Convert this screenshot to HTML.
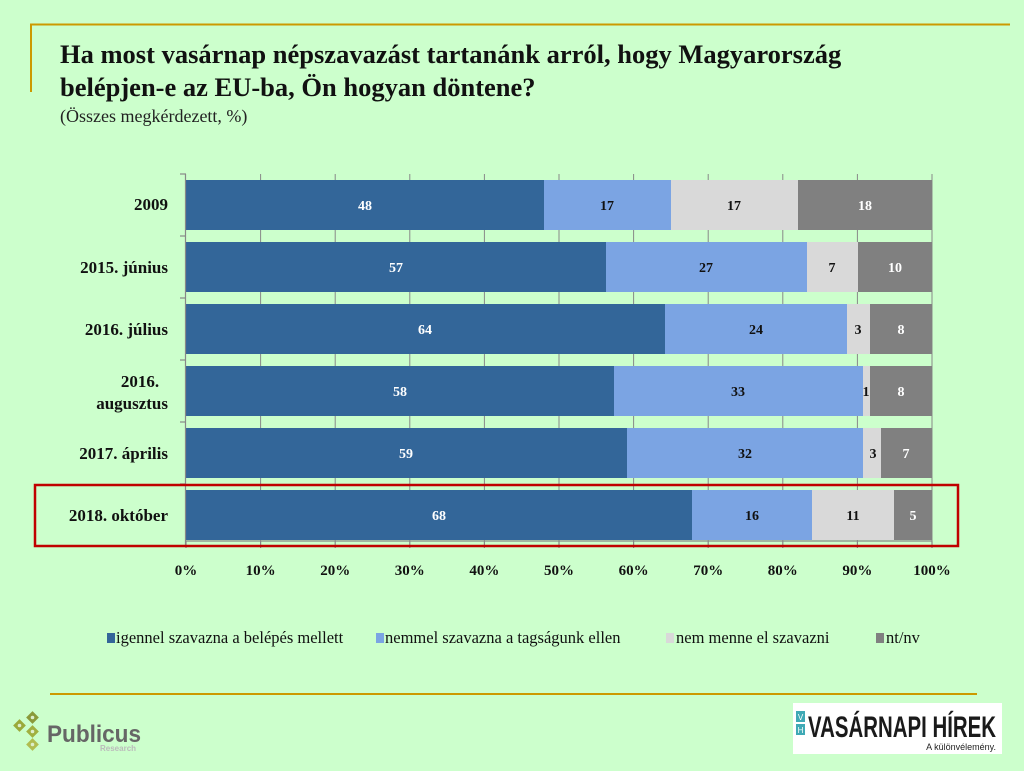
<!DOCTYPE html>
<html><head><meta charset="utf-8"><style>
html,body{margin:0;padding:0;background:#ccffcc;}
svg{display:block;}
</style></head><body>
<svg width="1024" height="771" viewBox="0 0 1024 771" xmlns="http://www.w3.org/2000/svg" font-family="'Liberation Serif', serif">
<rect width="1024" height="771" fill="#ccffcc"/>
<line x1="30" y1="24.5" x2="1010" y2="24.5" stroke="#cc9900" stroke-width="2"/>
<line x1="31" y1="24" x2="31" y2="92" stroke="#cc9900" stroke-width="2"/>
<line x1="50" y1="694" x2="977" y2="694" stroke="#cc9900" stroke-width="2"/>
<text x="60" y="63" font-size="26.5" font-weight="bold" fill="#111">Ha most vasárnap népszavazást tartanánk arról, hogy Magyarország</text>
<text x="60" y="96" font-size="26.5" font-weight="bold" fill="#111">belépjen-e az EU-ba, Ön hogyan döntene?</text>
<text x="60" y="122" font-size="18" fill="#222">(Összes megkérdezett, %)</text>
<g stroke="#888" stroke-width="1">
<line x1="260.6" y1="174" x2="260.6" y2="541"/>
<line x1="335.2" y1="174" x2="335.2" y2="541"/>
<line x1="409.8" y1="174" x2="409.8" y2="541"/>
<line x1="484.4" y1="174" x2="484.4" y2="541"/>
<line x1="559" y1="174" x2="559" y2="541"/>
<line x1="633.6" y1="174" x2="633.6" y2="541"/>
<line x1="708.2" y1="174" x2="708.2" y2="541"/>
<line x1="782.8" y1="174" x2="782.8" y2="541"/>
<line x1="857.4" y1="174" x2="857.4" y2="541"/>
<line x1="932" y1="174" x2="932" y2="541"/>
</g>
<g>
<rect x="186" y="180" width="358" height="50" fill="#336699"/>
<rect x="544" y="180" width="127" height="50" fill="#7ba4e3"/>
<rect x="671" y="180" width="127" height="50" fill="#d9d9d9"/>
<rect x="798" y="180" width="134" height="50" fill="#808080"/>
<rect x="186" y="242" width="420" height="50" fill="#336699"/>
<rect x="606" y="242" width="201" height="50" fill="#7ba4e3"/>
<rect x="807" y="242" width="51" height="50" fill="#d9d9d9"/>
<rect x="858" y="242" width="74" height="50" fill="#808080"/>
<rect x="186" y="304" width="479" height="50" fill="#336699"/>
<rect x="665" y="304" width="182" height="50" fill="#7ba4e3"/>
<rect x="847" y="304" width="23" height="50" fill="#d9d9d9"/>
<rect x="870" y="304" width="62" height="50" fill="#808080"/>
<rect x="186" y="366" width="428" height="50" fill="#336699"/>
<rect x="614" y="366" width="249" height="50" fill="#7ba4e3"/>
<rect x="863" y="366" width="7" height="50" fill="#d9d9d9"/>
<rect x="870" y="366" width="62" height="50" fill="#808080"/>
<rect x="186" y="428" width="441" height="50" fill="#336699"/>
<rect x="627" y="428" width="236" height="50" fill="#7ba4e3"/>
<rect x="863" y="428" width="18" height="50" fill="#d9d9d9"/>
<rect x="881" y="428" width="51" height="50" fill="#808080"/>
<rect x="186" y="490" width="506" height="50" fill="#336699"/>
<rect x="692" y="490" width="120" height="50" fill="#7ba4e3"/>
<rect x="812" y="490" width="82" height="50" fill="#d9d9d9"/>
<rect x="894" y="490" width="38" height="50" fill="#808080"/>
</g>
<g font-size="14" font-weight="bold" text-anchor="middle">
<text x="365" y="210" fill="#fff">48</text><text x="607" y="210" fill="#111">17</text><text x="734" y="210" fill="#111">17</text><text x="865" y="210" fill="#fff">18</text>
<text x="396" y="272" fill="#fff">57</text><text x="706" y="272" fill="#111">27</text><text x="832" y="272" fill="#111">7</text><text x="895" y="272" fill="#fff">10</text>
<text x="425" y="334" fill="#fff">64</text><text x="756" y="334" fill="#111">24</text><text x="858" y="334" fill="#111">3</text><text x="901" y="334" fill="#fff">8</text>
<text x="400" y="396" fill="#fff">58</text><text x="738" y="396" fill="#111">33</text><text x="866" y="396" fill="#111">1</text><text x="901" y="396" fill="#fff">8</text>
<text x="406" y="458" fill="#fff">59</text><text x="745" y="458" fill="#111">32</text><text x="873" y="458" fill="#111">3</text><text x="906" y="458" fill="#fff">7</text>
<text x="439" y="520" fill="#fff">68</text><text x="752" y="520" fill="#111">16</text><text x="853" y="520" fill="#111">11</text><text x="913" y="520" fill="#fff">5</text>
</g>
<g stroke="#888" stroke-width="1.2">
<line x1="185.5" y1="174" x2="185.5" y2="547"/>
<line x1="185" y1="541" x2="932" y2="541"/>
<line x1="180" y1="174" x2="186" y2="174"/><line x1="180" y1="236" x2="186" y2="236"/><line x1="180" y1="298" x2="186" y2="298"/><line x1="180" y1="360" x2="186" y2="360"/><line x1="180" y1="422" x2="186" y2="422"/><line x1="180" y1="484" x2="186" y2="484"/>
<line x1="186" y1="541" x2="186" y2="548"/><line x1="260.6" y1="541" x2="260.6" y2="548"/><line x1="335.2" y1="541" x2="335.2" y2="548"/><line x1="409.8" y1="541" x2="409.8" y2="548"/><line x1="484.4" y1="541" x2="484.4" y2="548"/><line x1="559" y1="541" x2="559" y2="548"/><line x1="633.6" y1="541" x2="633.6" y2="548"/><line x1="708.2" y1="541" x2="708.2" y2="548"/><line x1="782.8" y1="541" x2="782.8" y2="548"/><line x1="857.4" y1="541" x2="857.4" y2="548"/><line x1="932" y1="541" x2="932" y2="548"/>
</g>
<g font-size="17" font-weight="bold" fill="#111" text-anchor="end">
<text x="168" y="210">2009</text>
<text x="168" y="273">2015. június</text>
<text x="168" y="335">2016. július</text>
<text x="140" y="387" text-anchor="middle">2016.</text>
<text x="168" y="409">augusztus</text>
<text x="168" y="459">2017. április</text>
<text x="168" y="521">2018. október</text>
</g>
<g font-size="15" font-weight="bold" fill="#111" text-anchor="middle">
<text x="186" y="575">0%</text><text x="260.6" y="575">10%</text><text x="335.2" y="575">20%</text><text x="409.8" y="575">30%</text><text x="484.4" y="575">40%</text><text x="559" y="575">50%</text><text x="633.6" y="575">60%</text><text x="708.2" y="575">70%</text><text x="782.8" y="575">80%</text><text x="857.4" y="575">90%</text><text x="932" y="575">100%</text>
</g>
<rect x="35" y="485" width="923" height="61" fill="none" stroke="#c00000" stroke-width="2.5"/>
<g font-size="16.5" fill="#111">
<rect x="107" y="633" width="8" height="10" fill="#336699"/><text x="116" y="643">igennel szavazna a belépés mellett</text>
<rect x="376" y="633" width="8" height="10" fill="#7ba4e3"/><text x="385" y="643">nemmel szavazna a tagságunk ellen</text>
<rect x="666" y="633" width="8" height="10" fill="#d9d9d9"/><text x="676" y="643">nem menne el szavazni</text>
<rect x="876" y="633" width="8" height="10" fill="#808080"/><text x="886" y="643">nt/nv</text>
</g>
<g>
<rect x="28" y="713" width="9" height="9" fill="#8a9a3a" transform="rotate(45 32.5 717.5)"/>
<rect x="28" y="727" width="9" height="9" fill="#a0b040" transform="rotate(45 32.5 731.5)"/>
<rect x="15" y="721" width="9" height="9" fill="#9aaa3a" transform="rotate(45 19.5 725.5)"/>
<rect x="28" y="740" width="9" height="9" fill="#b0bd50" transform="rotate(45 32.5 744.5)"/>
<circle cx="32.5" cy="717.5" r="1.8" fill="#ddeecc"/><circle cx="32.5" cy="731.5" r="1.8" fill="#ddeecc"/><circle cx="19.5" cy="725.5" r="1.8" fill="#ddeecc"/><circle cx="32.5" cy="744.5" r="1.8" fill="#ddeecc"/>
<text x="47" y="742" font-family="'Liberation Sans', sans-serif" font-size="24" font-weight="bold" fill="#666" textLength="94" lengthAdjust="spacingAndGlyphs">Publicus</text>
<text x="100" y="751" font-family="'Liberation Sans', sans-serif" font-size="8" font-weight="bold" fill="#bbb">Research</text>
</g>
<g>
<rect x="793" y="703" width="209" height="51" fill="#fff"/>
<rect x="796" y="711" width="9" height="11" fill="#3fa9b5"/>
<rect x="796" y="724" width="9" height="11" fill="#3fa9b5"/>
<text x="800.5" y="720" font-family="'Liberation Sans', sans-serif" font-size="8" fill="#fff" text-anchor="middle">V</text>
<text x="800.5" y="733" font-family="'Liberation Sans', sans-serif" font-size="8" fill="#fff" text-anchor="middle">H</text>
<text x="808" y="737" font-family="'Liberation Sans', sans-serif" font-size="30" font-weight="bold" fill="#1a1a1a" textLength="188" lengthAdjust="spacingAndGlyphs">VASÁRNAPI HÍREK</text>
<text x="996" y="750" font-family="'Liberation Sans', sans-serif" font-size="9" fill="#222" text-anchor="end">A különvélemény.</text>
</g>
</svg>
</body></html>
